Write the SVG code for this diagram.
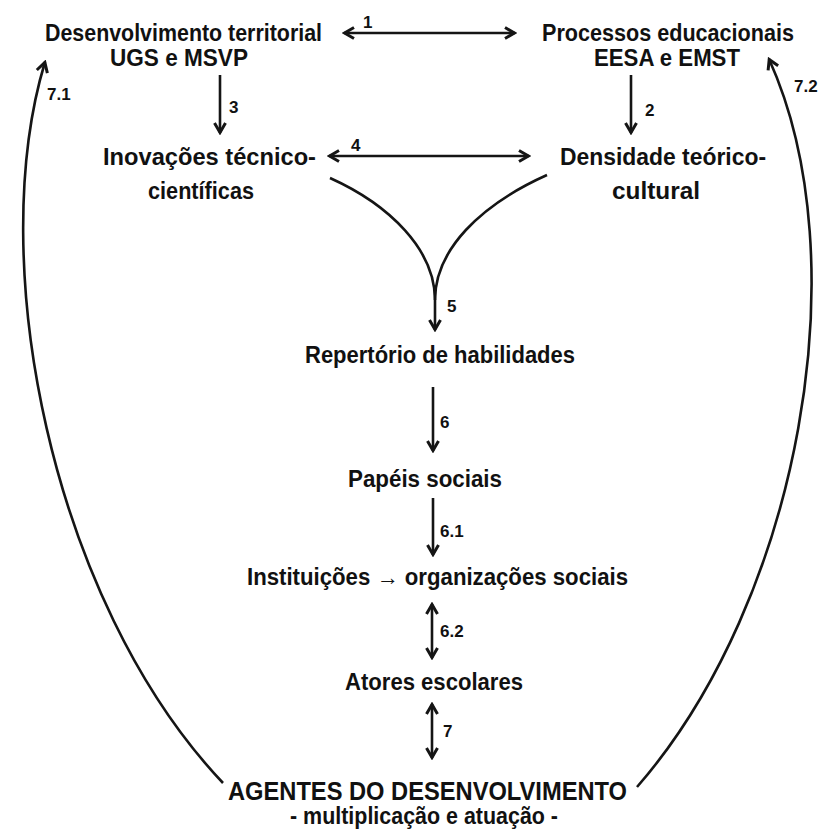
<svg xmlns="http://www.w3.org/2000/svg" width="822" height="832" viewBox="0 0 822 832">
<style>
.t{font-family:"Liberation Sans",Arial,sans-serif;font-weight:bold;font-size:23px;fill:#111}
.big{font-size:25px}
.n{font-family:"Liberation Sans",Arial,sans-serif;font-weight:bold;font-size:17px;fill:#111}
.c{fill:none;stroke:#151515;stroke-width:2.6}
</style>
<defs>
<marker id="ah" viewBox="-14 -8 16 16" refX="0" refY="0" markerWidth="16" markerHeight="16" markerUnits="userSpaceOnUse" orient="auto-start-reverse">
<path d="M-10,-5.5 L-0.5,0 L-10,5.5" fill="none" stroke="#151515" stroke-width="3"/>
</marker>
</defs>
<rect width="822" height="832" fill="#fff"/>
<g id="connectors">
<path class="c" d="M344,33 L515,33" marker-start="url(#ah)" marker-end="url(#ah)"/>
<path class="c" d="M329,156 L529,156" marker-start="url(#ah)" marker-end="url(#ah)"/>
<path class="c" d="M220,75 L220,133" marker-end="url(#ah)"/>
<path class="c" d="M631,75 L631,133" marker-end="url(#ah)"/>
<path class="c" d="M330,178 C390,205 435,250 435,300 L435,330" marker-end="url(#ah)"/>
<path class="c" d="M547,175 C480,205 435,250 435,300"/>
<path class="c" d="M433,387 L433,451" marker-end="url(#ah)"/>
<path class="c" d="M433,498 L433,555" marker-end="url(#ah)"/>
<path class="c" d="M432,604 L432,658" marker-start="url(#ah)" marker-end="url(#ah)"/>
<path class="c" d="M432,704 L432,758" marker-start="url(#ah)" marker-end="url(#ah)"/>
<path class="c" d="M223,783 C50,600 -15,260 45,62" marker-end="url(#ah)"/>
<path class="c" d="M637,787 C800,600 860,260 769,59" marker-end="url(#ah)"/>
<text class="n" x="363" y="28">1</text>
<text class="n" x="645" y="116">2</text>
<text class="n" x="229" y="113">3</text>
<text class="n" x="351" y="151">4</text>
<text class="n" x="447" y="312">5</text>
<text class="n" x="440" y="428">6</text>
<text class="n" x="440" y="537">6.1</text>
<text class="n" x="440" y="637">6.2</text>
<text class="n" x="443" y="737">7</text>
<text class="n" x="47" y="100">7.1</text>
<text class="n" x="794" y="92">7.2</text>
</g>
<g id="desenvolvimento-territorial">
<text class="t" x="45" y="41" textLength="277" lengthAdjust="spacingAndGlyphs">Desenvolvimento territorial</text>
<text class="t" x="110" y="66" textLength="138" lengthAdjust="spacingAndGlyphs">UGS e MSVP</text>
</g>
<g id="processos-educacionais">
<text class="t" x="542" y="41" textLength="252" lengthAdjust="spacingAndGlyphs">Processos educacionais</text>
<text class="t" x="594" y="66" textLength="146" lengthAdjust="spacingAndGlyphs">EESA e EMST</text>
</g>
<g id="inovacoes">
<text class="t" x="103" y="165" textLength="213" lengthAdjust="spacingAndGlyphs">Inovações técnico-</text>
<text class="t" x="148" y="199" textLength="106" lengthAdjust="spacingAndGlyphs">científicas</text>
</g>
<g id="densidade">
<text class="t" x="560" y="165" textLength="206" lengthAdjust="spacingAndGlyphs">Densidade teórico-</text>
<text class="t" x="612" y="199" textLength="88" lengthAdjust="spacingAndGlyphs">cultural</text>
</g>
<g id="repertorio">
<text class="t" x="305" y="363" textLength="270" lengthAdjust="spacingAndGlyphs">Repertório de habilidades</text>
</g>
<g id="papeis">
<text class="t" x="348" y="487" textLength="154" lengthAdjust="spacingAndGlyphs">Papéis sociais</text>
</g>
<g id="instituicoes">
<text class="t" x="247" y="585" textLength="381" lengthAdjust="spacingAndGlyphs">Instituições → organizações sociais</text>
</g>
<g id="atores">
<text class="t" x="345" y="690" textLength="178" lengthAdjust="spacingAndGlyphs">Atores escolares</text>
</g>
<g id="agentes">
<text class="t big" x="228" y="800" textLength="399" lengthAdjust="spacingAndGlyphs">AGENTES DO DESENVOLVIMENTO</text>
<text class="t" x="290" y="824" textLength="268" lengthAdjust="spacingAndGlyphs">- multiplicação e atuação -</text>
</g>
</svg>
